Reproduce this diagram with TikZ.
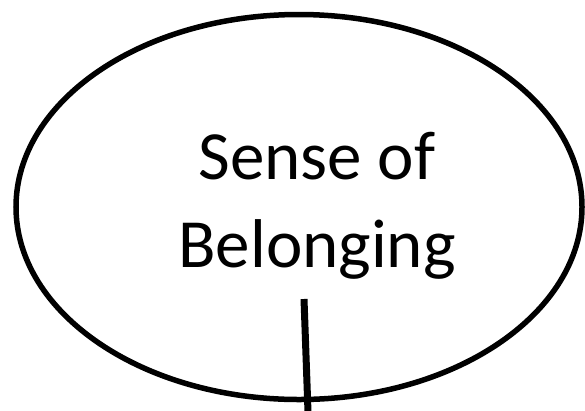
\documentclass[tikz,border=0pt]{standalone}
\usepackage{fontspec}
\setmainfont{Carlito}
\usetikzlibrary{shapes.geometric}

\begin{document}
\begin{tikzpicture}[
    x=1pt, y=-1pt,
    bolha/.style={draw, ellipse, line width=5.5pt,
                  minimum width=566pt, minimum height=385pt, inner sep=0pt},
    rotulo/.style={align=center, inner sep=0pt,
                   font=\fontsize{69}{88}\selectfont},
    haste/.style={line width=7pt}
  ]

    \useasboundingbox (0,0) rectangle (585,410);

    % --- Elipse ---
    \node[bolha] (pertenca) at (299,207) {};

    % --- Texto ---
    \node[rotulo, anchor=base] (texto) at (317,267) {Sense of\\Belonging};

    % --- Haste ---
    \coordinate (hastetopo) at (304,299);
    \coordinate (hastefim) at (308,412);
    \draw[haste] (hastetopo) -- (hastefim);

  \end{tikzpicture}
\end{document}
